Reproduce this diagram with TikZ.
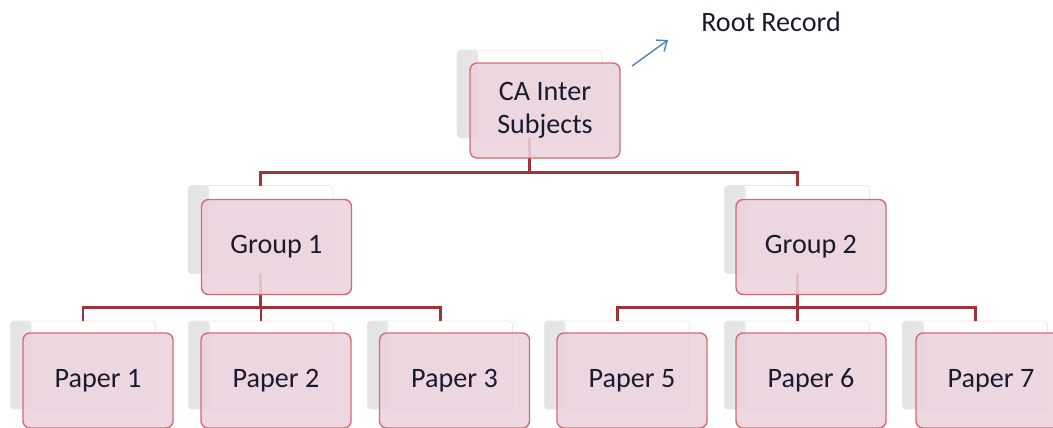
\documentclass[tikz,border=0pt]{standalone}
\usepackage{fontspec}
\setmainfont{Carlito}
\usetikzlibrary{arrows.meta}
\definecolor{boxfill}{RGB}{234,209,220}
\definecolor{boxline}{RGB}{214,106,114}
\definecolor{linkred}{RGB}{163,50,56}
\definecolor{ptrblue}{RGB}{79,129,189}
\definecolor{inktext}{RGB}{26,26,46}
\begin{document}
\begin{tikzpicture}[x=0.02cm,y=-0.02cm,
	backbox/.style={shape=rectangle,rounded corners=2pt,fill=white,draw=gray!18,
		minimum width=2.9cm,minimum height=1.76cm,inner sep=0pt,outer sep=0pt,
		path picture={\shade[left color=gray!22,right color=white]
			(path picture bounding box.south west) rectangle ([xshift=12pt]path picture bounding box.north west);}},
	entry/.style={shape=rectangle,rounded corners=4pt,fill=boxfill,fill opacity=0.88,text opacity=1,
		draw=boxline,line width=0.8pt,minimum width=3cm,minimum height=1.9cm,inner sep=0pt,outer sep=0pt,
		text=inktext,align=center,font=\fontsize{16}{19}\selectfont},
	link/.style={draw=linkred,line width=1.7pt},
	ptr/.style={draw=ptrblue,line width=0.8pt,-{Straight Barb[length=5pt,width=8pt]}}]
	\useasboundingbox (0,0) rectangle (1053,427);
	\clip (0,0) rectangle (1053,427);

	% back boxes
	\node[backbox] (rootbk) at (529.5, 94)  {};
	\node[backbox] (g1bk)   at (260.5, 229.5) {};
	\node[backbox] (g2bk)   at (797, 229.5) {};
	\node[backbox] (p1bk)   at (83, 365)  {};
	\node[backbox] (p2bk)   at (261, 365) {};
	\node[backbox] (p3bk)   at (440, 365) {};
	\node[backbox] (p5bk)   at (617, 365) {};
	\node[backbox] (p6bk)   at (797, 365) {};
	\node[backbox] (p7bk)   at (975, 365) {};

	% bus lines
	\coordinate (rootbus) at (529.5, 172);
	\coordinate (g1bus)   at (260.5, 307);
	\coordinate (g2bus)   at (797, 307);

	\draw[link] (rootbk.south) -- (rootbus) -| (g1bk.north);
	\draw[link] (rootbus) -| (g2bk.north);
	\draw[link] (g1bk.south) -- (g1bus) -| (p1bk.north);
	\draw[link] (g1bus) -| (p2bk.north);
	\draw[link] (g1bus) -| (p3bk.north);
	\draw[link] (g2bk.south) -- (g2bus) -| (p5bk.north);
	\draw[link] (g2bus) -| (p6bk.north);
	\draw[link] (g2bus) -| (p7bk.north);

	% front boxes
	\node[entry] (root) at (545, 110.5) {CA Inter\\Subjects};
	\node[entry] (g1)   at (276.5, 247) {Group 1};
	\node[entry] (g2)   at (811, 247)   {Group 2};
	\node[entry] (p1)   at (98, 380.5)  {Paper 1};
	\node[entry] (p2)   at (276, 380.5) {Paper 2};
	\node[entry] (p3)   at (454.5, 380.5) {Paper 3};
	\node[entry] (p5)   at (632, 380.5) {Paper 5};
	\node[entry] (p6)   at (811, 380.5) {Paper 6};
	\node[entry] (p7)   at (991, 380.5) {Paper 7};

	% root label
	\node[text=inktext,font=\fontsize{16}{19}\selectfont] (rootlbl) at (771, 22) {Root Record};
	\coordinate (ptrtip) at (668, 40);
	\draw[ptr] ([shift={(12,3)}]root.north east) -- (ptrtip);
\end{tikzpicture}
\end{document}
